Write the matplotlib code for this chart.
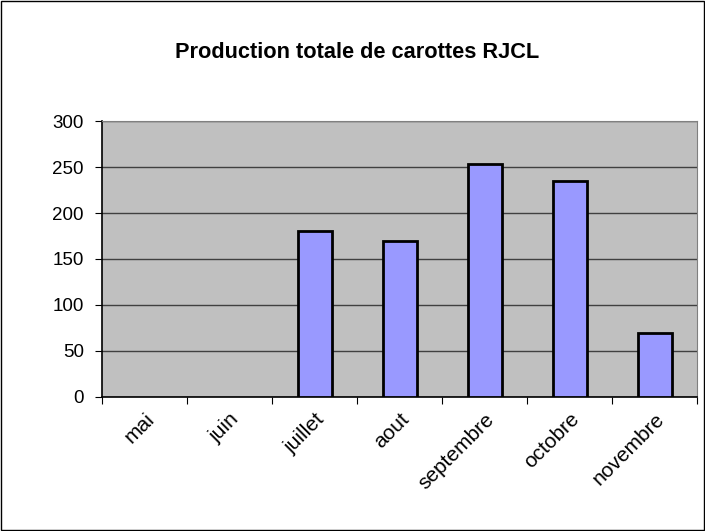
import matplotlib.pyplot as plt
import numpy as np

plt.rcParams['font.family'] = ['Liberation Sans', 'DejaVu Sans']

months = ['mai', 'juin', 'juillet', 'aout', 'septembre', 'octobre', 'novembre']
production = [0, 0, 180, 170, 253, 235, 70]
yticks = [0, 50, 100, 150, 200, 250, 300]

fig = plt.figure(figsize=(7.05, 5.31), dpi=100)
# figure border
fig.patches.append(plt.Rectangle((0.001, 0.001), 0.997, 0.997, transform=fig.transFigure,
                                 fill=False, edgecolor='black', linewidth=1))

ax = fig.add_axes([0.1447, 0.2524, 0.8440, 0.5197])
ax.set_facecolor('#C0C0C0')

x = np.arange(len(months))
widths = [2 if v > 0 else 0 for v in production]
ax.bar(x, production, width=0.4, color='#9999FF', edgecolor='black', linewidth=widths, zorder=3)

ax.set_xlim(-0.5, len(months) - 0.5)
ax.set_ylim(0, 300)
ax.set_yticks(yticks)
ax.yaxis.grid(True, color='#404040', linewidth=1, zorder=1)
ax.set_axisbelow(True)

# ticks between categories, labels at category centres
ax.set_xticks(np.arange(-0.5, len(months), 1.0))
ax.set_xticklabels([])
ax.set_xticks(x, minor=True)
ax.set_xticklabels(months, minor=True, rotation=45, ha='right', va='top',
                   rotation_mode='anchor', fontsize=15)
ax.tick_params(axis='x', which='minor', length=0, pad=9)
ax.tick_params(axis='x', which='major', length=5, direction='out', color='black')
ax.tick_params(axis='y', length=5, direction='out', labelsize=13.5, pad=8)

for side in ['top', 'right']:
    ax.spines[side].set_color('#808080')
for side in ['left', 'bottom']:
    ax.spines[side].set_color('black')
    ax.spines[side].set_linewidth(1.2)

fig.text(0.507, 0.902, 'Production totale de carottes RJCL', ha='center', va='center',
         fontsize=15.7, fontweight='bold')

fig.savefig('out.png', dpi=100)
